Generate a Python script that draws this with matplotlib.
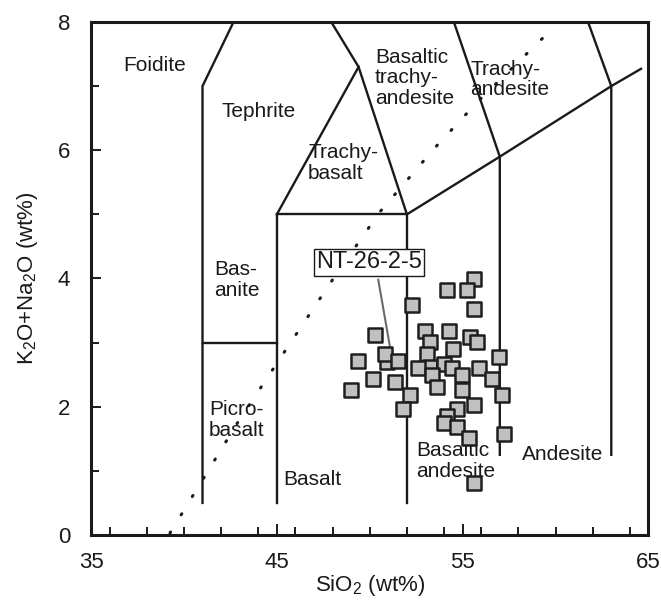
import numpy as np
import matplotlib
matplotlib.use("Agg")
import matplotlib.pyplot as plt
from matplotlib.ticker import FixedLocator, MultipleLocator

plt.rcParams['font.family'] = ['Liberation Sans', 'DejaVu Sans']
plt.rcParams['mathtext.default'] = 'regular'

# sample compositions (SiO2, K2O+Na2O), wt%
sio2 = [55.63, 54.18, 55.22, 55.63, 52.29, 50.30, 52.98, 54.29, 55.40, 53.25,
        55.79, 54.47, 50.91, 50.82, 53.07, 49.35, 51.51, 56.98, 53.25, 52.58,
        54.02, 54.41, 55.90, 50.16, 51.36, 53.37, 54.99, 56.56, 53.62, 54.99,
        48.98, 52.17, 57.12, 55.63, 51.77, 54.72, 54.14, 54.02, 54.68, 55.36,
        57.25, 55.61]
alkali = [3.99, 3.82, 3.82, 3.53, 3.59, 3.12, 3.18, 3.18, 3.08, 3.01,
          3.01, 2.90, 2.70, 2.83, 2.83, 2.72, 2.72, 2.78, 2.62, 2.61,
          2.66, 2.61, 2.61, 2.43, 2.38, 2.49, 2.49, 2.43, 2.31, 2.26,
          2.26, 2.19, 2.19, 2.03, 1.97, 1.97, 1.85, 1.74, 1.68, 1.51,
          1.57, 0.81]

# labelled sample
label_name = 'NT-26-2-5'

x_ticks = [35, 45, 55, 65]
y_ticks = [0, 2, 4, 6, 8]

# TAS field boundaries (Le Bas et al., 1986), clipped to the plot window
boundaries = [
    [(41, 0.5), (41, 7), (42.67, 8)],
    [(41, 3), (45, 3)],
    [(45, 0.5), (45, 5), (52, 5), (52, 0.5)],
    [(45, 5), (49.4, 7.3), (47.93, 8)],
    [(49.4, 7.3), (52, 5), (57, 5.9), (63, 7), (64.6, 7.27)],
    [(57, 1.25), (57, 5.9), (54.53, 8)],
    [(63, 1.25), (63, 7), (61.75, 8)],
]

# alkaline / subalkaline divide
divide_x = [39.25, 42.84, 45.35, 47.88, 50.52, 53.48, 55.85, 59.81]
divide_y = [0.03, 1.73, 2.83, 3.93, 5.03, 6.03, 6.77, 7.89]

# field names: (text, x, y, horizontal alignment)
fields = [
    ('Foidite', 38.44, 7.32, 'center'),
    ('Tephrite', 44.04, 6.60, 'center'),
    ('Trachy-\nbasalt', 46.68, 5.80, 'left'),
    ('Basaltic\ntrachy-\nandesite', 50.29, 7.13, 'left'),
    ('Trachy-\nandesite', 55.40, 7.10, 'left'),
    ('Bas-\nanite', 41.62, 3.98, 'left'),
    ('Picro-\nbasalt', 41.35, 1.79, 'left'),
    ('Basalt', 46.89, 0.87, 'center'),
    ('Basaltic\nandesite', 52.49, 1.15, 'left'),
    ('Andesite', 60.40, 1.25, 'center'),
]

fig = plt.figure(figsize=(6.61, 6.03), dpi=100)
ax = fig.add_axes([0.1377, 0.1128, 0.8433, 0.8507])

for seg in boundaries:
    xs, ys = zip(*seg)
    ax.plot(xs, ys, color='#1a1a1a', lw=1.7, solid_joinstyle='miter', zorder=2)

ax.plot(divide_x, divide_y, color='#1a1a1a', lw=2.2,
        linestyle=(0, (0.4, 6.6)), dash_capstyle='round', zorder=2)

for text, x, y, ha in fields:
    ax.text(x, y, text, ha=ha, va='center', multialignment='left',
            fontsize=15, color='#1a1a1a', linespacing=1.1, zorder=3)

ax.scatter(sio2, alkali, marker='s', s=94, facecolor='#c0c0c0',
           edgecolor='#1e1e1e', linewidth=1.8, zorder=5)

ax.plot([50.46, 51.09], [3.98, 2.93], color='#6a6a6a', lw=1.5, zorder=4)
ax.text(49.97, 4.25, label_name, ha='center', va='center', fontsize=17,
        color='#1a1a1a', zorder=6,
        bbox=dict(boxstyle='square,pad=0.1', facecolor='white',
                  edgecolor='#1a1a1a', linewidth=1.0))

ax.set_xlim(35, 65)
ax.set_ylim(0, 8)
ax.xaxis.set_major_locator(FixedLocator(x_ticks))
ax.xaxis.set_minor_locator(MultipleLocator(2))
ax.yaxis.set_major_locator(FixedLocator(y_ticks))
ax.yaxis.set_minor_locator(MultipleLocator(1))
ax.tick_params(which='both', direction='in', width=1.4, color='#1a1a1a',
               labelsize=16, labelcolor='#1a1a1a')
ax.tick_params(axis='x', which='major', length=8, pad=12)
ax.tick_params(axis='x', which='minor', length=5.5)
ax.tick_params(axis='y', which='major', length=7, pad=15)
ax.tick_params(axis='y', which='minor', length=6)
for sp in ax.spines.values():
    sp.set_linewidth(2.2)
    sp.set_color('#1a1a1a')

ax.set_xlabel('SiO$_2$ (wt%)', fontsize=16, color='#1a1a1a', labelpad=0)
ax.set_ylabel('K$_2$O+Na$_2$O (wt%)', fontsize=16, color='#1a1a1a', labelpad=13)

fig.savefig('out.png', dpi=100)
